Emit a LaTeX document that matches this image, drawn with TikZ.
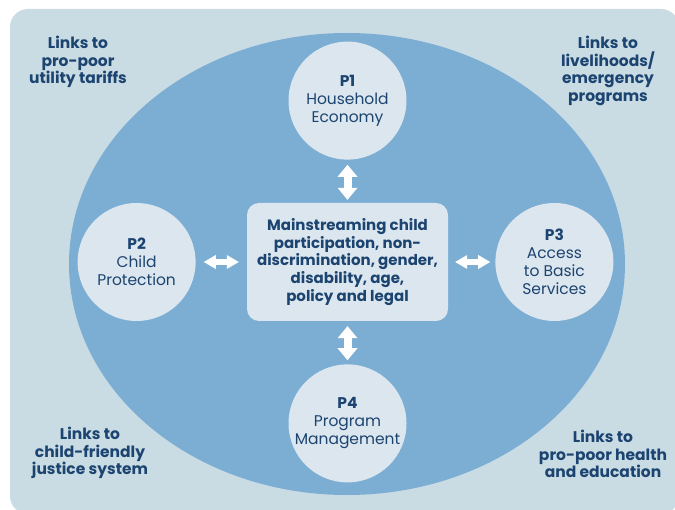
\documentclass[tikz,border=0pt]{standalone}
\usepackage{fontspec}
\setmainfont{Poppins}
\usetikzlibrary{positioning,arrows.meta}

\definecolor{bgblue}{RGB}{201,219,227}
\definecolor{midblue}{RGB}{124,174,212}
\definecolor{paleblue}{RGB}{220,230,238}
\definecolor{navy}{RGB}{28,68,112}

\tikzset{
  pillar/.style={circle,fill=paleblue,minimum size=118pt,inner sep=0pt,align=center,text=navy,font=\fontsize{15.5}{18}\selectfont},
  core/.style={rectangle,rounded corners=12pt,fill=paleblue,minimum width=201pt,minimum height=118pt,align=center,text=navy,font=\bfseries\fontsize{15}{17.8}\selectfont},
  linktext/.style={align=center,text=navy,font=\bfseries\fontsize{15.5}{17.8}\selectfont},
  harrow/.style={color=white,line width=6pt,{Triangle[length=12pt,width=14pt,line width=0pt]}-{Triangle[length=12pt,width=14pt,line width=0pt]}},
  varrow/.style={color=white,line width=8pt,{Triangle[length=12pt,width=20pt,line width=0pt]}-{Triangle[length=12pt,width=20pt,line width=0pt]}}
}

\begin{document}
\begin{tikzpicture}[x=1pt,y=-1pt]

\useasboundingbox (0,0) rectangle (675,510);
\fill[bgblue,rounded corners=18pt] (10,9) rectangle (679,514);
\fill[midblue] (347,264) ellipse [x radius=278pt, y radius=231pt];

\node[core] (box) at (347.5,262) {Mainstreaming child\\participation, non-\\discrimination, gender,\\disability, age,\\policy and legal};

\node[pillar] (p1) [above=43pt of box] {\textbf{P1}\\Household\\Economy};
\node[pillar] (p2) [left=51pt of box] {\textbf{P2}\\Child\\Protection};
\node[pillar] (p3) [right=47pt of box] {\textbf{P3}\\Access\\to Basic\\Services};
\node[pillar] (p4) [below=43pt of box] {\textbf{P4}\\Program\\Management};

\path[varrow,shorten <=3pt,shorten >=5pt]
(box) edge (p1);
\path[varrow,shorten <=5pt,shorten >=4pt]
(box) edge (p4);
\path[harrow,shorten <=8pt,shorten >=8pt]
(box) edge (p2);
\path[harrow,shorten <=7pt,shorten >=5pt]
(box) edge (p3);

\node[linktext] (tl) at (78,62) {Links to\\pro-poor\\utility tariffs};
\node[linktext] (tr) at (608,71) {Links to\\livelihoods/\\emergency\\programs};
\node[linktext] (bl) at (90,453) {Links to\\child-friendly\\justice system};
\node[linktext] (br) at (603,454) {Links to\\pro-poor health\\and education};

\end{tikzpicture}
\end{document}
